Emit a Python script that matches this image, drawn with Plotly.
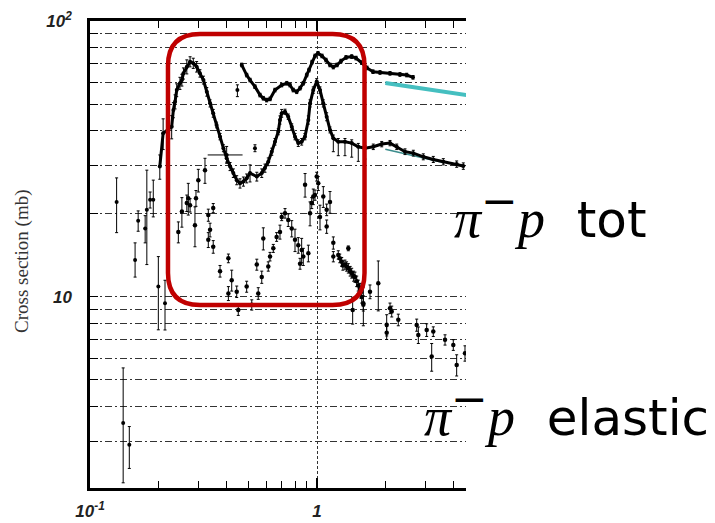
import plotly.graph_objects as go

# ---------------- data ----------------
# pi- p total cross section (big Delta peak curve)
tot_x = [0.203, 0.210, 0.229, 0.233, 0.237, 0.241, 0.249, 0.254, 0.258, 0.267,
         0.276, 0.285, 0.295, 0.305, 0.316, 0.327, 0.338, 0.349, 0.361, 0.374,
         0.387, 0.400, 0.414, 0.428, 0.443, 0.458, 0.474, 0.490, 0.507, 0.543,
         0.571, 0.590, 0.610, 0.632, 0.653, 0.675, 0.687, 0.699, 0.723, 0.747,
         0.774, 0.800, 0.827, 0.856, 0.885, 0.916, 0.932, 0.963, 0.997, 1.031,
         1.066, 1.103, 1.141, 1.180, 1.241, 1.328, 1.422, 1.520, 1.627, 1.770,
         1.928, 2.097, 2.245, 2.442, 2.657, 2.940, 3.253, 3.601, 4.124, 4.411]
tot_y = [29.7, 39.2, 41.4, 47.6, 51.0, 56.2, 59.5, 61.1, 64.6, 68.3,
         71.2, 70.3, 68.3, 64.6, 61.1, 55.4, 50.3, 46.3, 42.0, 38.1,
         34.6, 31.8, 29.7, 28.1, 26.5, 25.8, 26.2, 26.9, 28.1, 27.3,
         28.1, 29.3, 30.9, 33.6, 36.5, 39.7, 43.8, 46.3, 46.9, 45.0,
         41.4, 38.1, 36.1, 36.5, 38.1, 43.8, 50.3, 56.2, 60.3, 56.2,
         50.3, 45.0, 40.3, 37.6, 36.5, 36.5, 36.1, 35.0, 34.6, 35.0,
         35.8, 36.1, 35.0, 33.6, 33.2, 32.2, 31.5, 30.9, 30.3, 29.8]
tot_err_up = [3, 5, 4, 3, 3, 3, 3, 3, 3, 4,
              3, 3, 3, 2, 2, 2, 1.5, 1.5, 1, 1,
              1, 1, 1, 1, 1, 1, 1, 1, 2, 1,
              1, 1, 1, 1, 1, 1, 1.5, 1.5, 1, 1,
              1, 1, 1, 1, 1, 1.5, 1.5, 1.5, 1.5, 1.5,
              1.5, 1.5, 1, 1, 1, 1, 1, 1, 0.8, 0.8,
              0.8, 0.8, 0.8, 0.8, 0.8, 0.8, 0.8, 0.8, 0.8, 0.8]
tot_err_dn = [3, 5, 4, 3, 3, 3, 3, 3, 3, 4,
              3, 3, 3, 2, 2, 2, 1.5, 1.5, 1, 1,
              1, 1, 1, 1, 1, 1, 1, 1, 2, 1,
              1, 1, 1, 1, 1, 1, 1.5, 1.5, 1, 1,
              1, 1, 1, 1, 1, 1.5, 1.5, 1.5, 1.5, 1.5,
              1.5, 1.5, 1, 4, 4, 4, 4, 4, 3, 0.8,
              0.8, 0.8, 0.8, 0.8, 0.8, 0.8, 0.8, 0.8, 0.8, 0.8]

# upper total cross-section curve
up_x = [0.466, 0.490, 0.507, 0.533, 0.561, 0.580, 0.600, 0.621, 0.653, 0.699,
        0.736, 0.760, 0.786, 0.814, 0.842, 0.870, 0.901, 0.922, 0.951, 0.980,
        1.010, 1.052, 1.095, 1.141, 1.180, 1.225, 1.276, 1.342, 1.422, 1.485,
        1.574, 1.661, 1.765, 1.895, 2.097, 2.320, 2.484, 2.648]
up_y = [69.3, 63.7, 61.1, 57.8, 53.9, 52.5, 51.7, 52.2, 56.2, 58.6,
        59.5, 58.6, 56.2, 55.4, 57.1, 59.5, 63.7, 66.4, 71.0, 74.7,
        76.4, 74.7, 72.2, 69.3, 68.1, 69.3, 71.6, 73.8, 74.3, 73.4,
        70.6, 67.6, 65.5, 65.1, 64.6, 64.0, 63.7, 62.5]

# pi- p elastic cross section
el_x = [0.245, 0.254, 0.267, 0.271, 0.276, 0.290, 0.293, 0.300, 0.321, 0.332,
        0.338, 0.332, 0.349, 0.349, 0.374, 0.407, 0.421, 0.407, 0.443, 0.450,
        0.490, 0.516, 0.543, 0.551, 0.571, 0.580, 0.610, 0.621, 0.642, 0.664,
        0.687, 0.699, 0.723, 0.747, 0.774, 0.800, 0.827, 0.842, 0.856, 0.870,
        0.886, 0.916, 0.932, 0.948, 0.963, 0.980, 0.997, 1.013, 1.031, 1.066,
        1.103, 1.103, 1.141, 1.180, 1.180, 1.241, 1.260, 1.285, 1.300, 1.328,
        1.350, 1.374, 1.374, 1.400, 1.422, 1.436, 1.450, 1.470, 1.496, 1.520,
        1.547, 1.560, 1.574, 1.600, 1.600, 1.712, 1.862, 2.028, 2.028, 2.097,
        2.134, 2.281, 2.749, 2.795, 3.042, 3.201, 3.253, 3.664, 3.985, 4.124,
        4.487]
el_y = [17.2, 20.4, 21.9, 22.8, 21.5, 18.2, 22.8, 26.5, 28.8, 19.8,
        17.5, 16.1, 15.2, 21.0, 12.4, 13.8, 11.5, 10.3, 10.45, 8.97,
        10.9, 9.36, 13.1, 10.3, 11.8, 16.3, 12.9, 14.0, 15.0, 16.5,
        17.2, 19.5, 20.1, 19.0, 17.7, 16.1, 15.4, 13.2, 14.8, 14.0,
        25.5, 14.4, 20.1, 21.9, 23.1, 23.4, 27.3, 25.8, 19.5, 23.1,
        20.7, 18.0, 22.1, 15.7, 14.0, 14.2, 13.8, 13.4, 13.0, 13.1,
        12.9, 12.7, 15.0, 12.4, 12.2, 8.97, 11.9, 11.8, 11.4, 11.0,
        10.7, 10.4, 10.0, 9.49, 9.36, 10.45, 11.2, 7.92, 7.41, 9.10,
        8.86, 8.26, 7.91, 7.28, 7.59, 6.08, 7.49, 6.99, 6.70, 5.67,
        6.25]
el_err = [1.5, 2.5, 1.5, 3.0, 1.2, 3.0, 1.5, 2.5, 3.0, 1.0,
          1.0, 1.0, 0.8, 0.8, 0.6, 0.5, 1.0, 0.6, 0.5, 0.4,
          0.5, 0.4, 0.6, 0.5, 0.6, 1.5, 0.5, 0.5, 0.5, 0.6,
          1.0, 0.6, 0.8, 1.0, 1.2, 1.5, 1.0, 0.6, 1.5, 1.0,
          2.5, 1.0, 2.0, 1.0, 1.5, 1.0, 1.0, 1.5, 2.0, 2.0,
          1.0, 1.0, 2.0, 0.8, 0.6, 0.5, 0.5, 0.5, 0.5, 0.5,
          0.5, 0.5, 0.3, 0.5, 0.5, 1.0, 0.5, 0.5, 0.5, 0.5,
          0.5, 0.5, 0.5, 0.6, 1.5, 0.6, 2.3, 0.7, 0.4, 0.4,
          0.4, 0.4, 0.4, 0.5, 0.4, 0.7, 0.3, 0.3, 0.3, 0.5,
          0.4]

# isolated low-statistics points with large error bars
misc_x = [0.131, 0.140, 0.149, 0.158, 0.163, 0.175, 0.178, 0.184, 0.190, 0.200,
          0.214, 0.400, 0.446, 0.533]
misc_y = [22.1, 3.49, 2.91, 13.6, 18.9, 17.7, 20.7, 22.5, 22.5, 10.9,
          9.49, 32.7, 56.2, 34.6]
misc_up = [4.9, 2.04, 0.48, 2.1, 1.6, 2.0, 8.1, 1.5, 4.0, 3.1,
           2.0, 2.4, 2.5, 1.0]
misc_dn = [5.0, 1.37, 0.52, 1.8, 1.6, 2.0, 7.6, 1.5, 3.0, 3.3,
           1.9, 2.2, 3.0, 1.0]
misc_xerr = [0, 0, 0, 0, 0, 0, 0, 0, 0, 0, 0, 0.07, 0, 0]

# fitted lines at high momentum
fit1_x = [2.0, 4.6]
fit1_y = [59.6, 53.8]
fit2_x = [2.0, 3.6]
fit2_y = [34.3, 30.7]

x_major = [0.1, 1]
x_major_text = ["10<sup>-1</sup>", "1"]
x_minor = [0.2, 0.3, 0.4, 0.5, 0.6, 0.7, 0.8, 0.9, 2, 3, 4]
y_major = [10, 100]
y_major_text = ["10", "10<sup>2</sup>"]
y_minor = [3, 4, 5, 6, 7, 8, 9, 20, 30, 40, 50, 60, 70, 80, 90]

# ---------------- figure ----------------
fig = go.Figure()

mk = dict(color="black", size=4)
eb = dict(color="black", thickness=1, width=1.5)

fig.add_trace(go.Scatter(x=fit1_x, y=fit1_y, mode="lines",
                         line=dict(color="#45bfc0", width=4), hoverinfo="skip"))
fig.add_trace(go.Scatter(x=fit2_x, y=fit2_y, mode="lines",
                         line=dict(color="#3c8c8c", width=1.5), hoverinfo="skip"))

fig.add_trace(go.Scatter(x=tot_x, y=tot_y, mode="lines+markers",
                         line=dict(color="black", width=3), marker=mk,
                         error_y=dict(type="data", symmetric=False, array=tot_err_up,
                                      arrayminus=tot_err_dn, **eb)))
fig.add_trace(go.Scatter(x=up_x, y=up_y, mode="lines+markers",
                         line=dict(color="black", width=3), marker=mk,
                         error_y=dict(type="percent", value=1.5, **eb)))
fig.add_trace(go.Scatter(x=el_x, y=el_y, mode="markers", marker=dict(color="black", size=4.5),
                         error_y=dict(type="data", array=el_err, **eb)))
fig.add_trace(go.Scatter(x=misc_x, y=misc_y, mode="markers", marker=dict(color="black", size=4),
                         error_y=dict(type="data", symmetric=False, array=misc_up,
                                      arrayminus=misc_dn, **eb),
                         error_x=dict(type="data", array=misc_xerr, color="black",
                                      thickness=1, width=0)))

grid_dash = "7px,3px,2px,3px"
tick_font = dict(family="Liberation Sans", size=17, color="#222",
                 weight="bold", style="italic")

fig.update_xaxes(type="log", range=[-1, 0.6564], automargin=False,
                 tickvals=x_major, ticktext=x_major_text, tickfont=tick_font,
                 ticks="inside", ticklen=10, tickcolor="black", tickwidth=1.5,
                 ticklabelstandoff=6,
                 showgrid=True, gridcolor="#333", gridwidth=1, griddash="3px,2px",
                 minor=dict(tickvals=x_minor, ticks="inside", ticklen=7,
                            tickcolor="black", tickwidth=1.2, showgrid=False),
                 showline=True, linecolor="black", linewidth=2.5, mirror="ticks",
                 zeroline=False)
fig.update_yaxes(type="log", range=[0.3075, 2.0], automargin=False,
                 tickvals=y_major, ticktext=y_major_text, tickfont=tick_font,
                 ticks="inside", ticklen=8, tickcolor="black", tickwidth=1.2,
                 ticklabelstandoff=12,
                 showgrid=True, gridcolor="#333", gridwidth=1, griddash=grid_dash,
                 minor=dict(tickvals=y_minor, ticks="inside", ticklen=8,
                            tickcolor="black", tickwidth=1.2, showgrid=True,
                            gridcolor="#333", gridwidth=1, griddash=grid_dash),
                 showline=True, linecolor="black", linewidth=2.5, mirror=False,
                 zeroline=False)

# red rounded highlight box (paper coordinates)
x0, x1, y0, y1 = 0.2074, 0.7301, 0.3919, 0.9722
rx, ry = 0.0851, 0.0685
path = (f"M {x0+rx},{y1} L {x1-rx},{y1} Q {x1},{y1} {x1},{y1-ry} "
        f"L {x1},{y0+ry} Q {x1},{y0} {x1-rx},{y0} L {x0+rx},{y0} "
        f"Q {x0},{y0} {x0},{y0+ry} L {x0},{y1-ry} Q {x0},{y1} {x0+rx},{y1} Z")
fig.add_shape(type="path", path=path, xref="paper", yref="paper",
              line=dict(color="#c00000", width=4.5), layer="above")

serif = "font-family:Liberation Serif;font-size:54px"
label_math = (f'<span style="{serif}"><i>π</i></span>'
              f'<sup><span style="font-size:44px">−</span></sup>'
              f'<span style="{serif}"><i>p</i></span>')
fig.add_annotation(x=0.963, y=0.59, xref="paper", yref="paper", xanchor="left",
                   yanchor="middle", showarrow=False,
                   text=label_math + " &nbsp;tot",
                   font=dict(family="DejaVu Sans", size=50, color="black"))
fig.add_annotation(x=0.883, y=0.168, xref="paper", yref="paper", xanchor="left",
                   yanchor="middle", showarrow=False,
                   text=label_math + " &nbsp;elastic",
                   font=dict(family="DejaVu Sans", size=50, color="black"))
fig.add_annotation(x=-0.181, y=0.486, xref="paper", yref="paper", textangle=-90,
                   xanchor="center", yanchor="middle",
                   showarrow=False, text="Cross section (mb)",
                   font=dict(family="Liberation Serif", size=19, color="#333"))

fig.update_layout(width=715, height=523, showlegend=False,
                  margin=dict(l=90, r=249, t=21, b=35),
                  plot_bgcolor="white", paper_bgcolor="white")

fig.write_html("out.html")
